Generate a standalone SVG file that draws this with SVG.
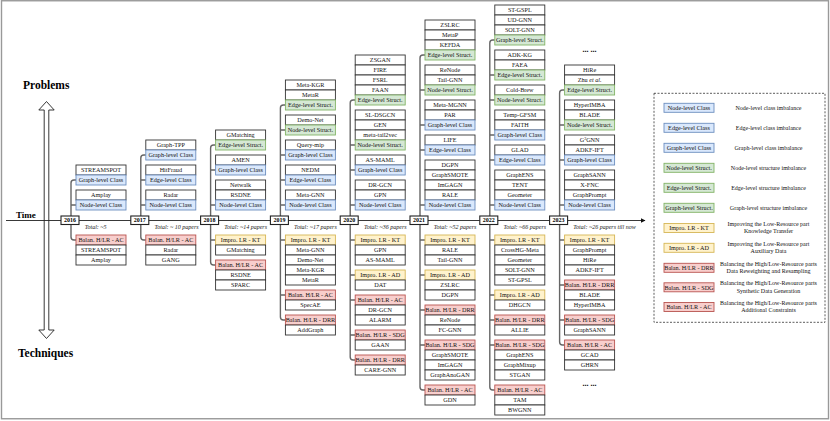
<svg xmlns="http://www.w3.org/2000/svg" width="830" height="421" viewBox="0 0 830 421">
<defs>
<style>
.w{fill:#fff;stroke:#333;stroke-width:0.9}
.b{fill:#dae8fc;stroke:#6c8ebf;stroke-width:0.9}
.g{fill:#d5e8d4;stroke:#82b366;stroke-width:0.9}
.y{fill:#fff2cc;stroke:#d6b656;stroke-width:0.9}
.r{fill:#f8cecc;stroke:#b85450;stroke-width:0.9}
.t{font-family:"Liberation Serif","Times New Roman",serif;font-size:6.2px;text-anchor:middle;fill:#111}
.lt{font-family:"Liberation Serif","Times New Roman",serif;font-size:6px;text-anchor:middle;fill:#111}
.tot{font-family:"Liberation Serif","Times New Roman",serif;font-size:6px;font-style:italic;fill:#222}
.yr{fill:#fff;stroke:#222;stroke-width:1.1}
.yt{font-family:"Liberation Serif","Times New Roman",serif;font-size:6px;font-weight:bold;text-anchor:middle;fill:#000}
.big{font-family:"Liberation Serif","Times New Roman",serif;font-weight:bold;fill:#000}
.dots{font-family:"Liberation Serif","Times New Roman",serif;font-size:8px;font-weight:bold;text-anchor:middle;fill:#000}
.con{fill:none;stroke:#666;stroke-width:1.4}
</style>
<marker id="ah" viewBox="0 0 10 10" refX="9" refY="5" markerWidth="5" markerHeight="5" orient="auto" markerUnits="userSpaceOnUse">
<path d="M0,0 L10,5 L0,10 Z" fill="#111"/>
</marker>
</defs>
<rect x="1.5" y="0.75" width="827" height="418" fill="#fff" stroke="#999" stroke-width="1.4"/>

<g id="labels">
<text class="big" x="23" y="89" font-size="11.5">Problems</text>
<text class="big" x="18" y="357" font-size="11.5">Techniques</text>
<text class="big" x="16" y="218" font-size="9">Time</text>
<polygon points="46.5,101.5 54.2,110 48.8,110 48.8,330 54.2,330 46.5,338.5 38.8,330 44.2,330 44.2,110 38.8,110" fill="#fff" stroke="#222" stroke-width="0.9"/>
</g>

<g id="axis">
<line x1="6" y1="220.5" x2="645" y2="220.5" stroke="#222" stroke-width="0.9" marker-end="url(#ah)"/>
</g>

<g id="connectors" class="con">
<path d="M76 180 H74 Q71 180 71 183 V237 Q71 240 74 240 H76 M71 205 H76"/>
<path d="M145.8 155 H143.8 Q140.8 155 140.8 158 V237 Q140.8 240 143.8 240 H145.8 M140.8 180 H145.8 M140.8 205 H145.8"/>
<path d="M215.6 145 H213.6 Q210.6 145 210.6 148 V262 Q210.6 265 213.6 265 H215.6 M210.6 170 H215.6 M210.6 205 H215.6 M210.6 240 H215.6"/>
<path d="M285.4 105 H283.4 Q280.4 105 280.4 108 V317 Q280.4 320 283.4 320 H285.4 M280.4 130 H285.4 M280.4 155 H285.4 M280.4 180 H285.4 M280.4 205 H285.4 M280.4 240 H285.4 M280.4 295 H285.4"/>
<path d="M355.2 100 H353.2 Q350.2 100 350.2 103 V357 Q350.2 360 353.2 360 H355.2 M350.2 145 H355.2 M350.2 170 H355.2 M350.2 205 H355.2 M350.2 240 H355.2 M350.2 275 H355.2 M350.2 300 H355.2 M350.2 335 H355.2"/>
<path d="M425 55 H423 Q420 55 420 58 V387 Q420 390 423 390 H425 M420 90 H425 M420 125 H425 M420 150 H425 M420 205 H425 M420 240 H425 M420 275 H425 M420 310 H425 M420 345 H425"/>
<path d="M494.8 40 H492.8 Q489.8 40 489.8 43 V387 Q489.8 390 492.8 390 H494.8 M489.8 75 H494.8 M489.8 100 H494.8 M489.8 135 H494.8 M489.8 160 H494.8 M489.8 205 H494.8 M489.8 240 H494.8 M489.8 295 H494.8 M489.8 320 H494.8 M489.8 345 H494.8"/>
<path d="M564.6 90 H562.6 Q559.6 90 559.6 93 V342 Q559.6 345 562.6 345 H564.6 M559.6 125 H564.6 M559.6 160 H564.6 M559.6 205 H564.6 M559.6 240 H564.6 M559.6 285 H564.6 M559.6 320 H564.6"/>
</g>

<g id="years">
<g id="y2016"><rect class="yr" x="61" y="216" width="18" height="8.5"/><text class="yt" x="70" y="222.4">2016</text><text class="tot" x="84.7" y="229">Total: ~5</text></g>
<g id="y2017"><rect class="yr" x="130.8" y="216" width="18" height="8.5"/><text class="yt" x="139.8" y="222.4">2017</text><text class="tot" x="154.5" y="229">Total: ~ 10 papers</text></g>
<g id="y2018"><rect class="yr" x="200.6" y="216" width="18" height="8.5"/><text class="yt" x="209.6" y="222.4">2018</text><text class="tot" x="224.3" y="229">Total: ~14 papers</text></g>
<g id="y2019"><rect class="yr" x="270.4" y="216" width="18" height="8.5"/><text class="yt" x="279.4" y="222.4">2019</text><text class="tot" x="294.1" y="229">Total: ~17 papers</text></g>
<g id="y2020"><rect class="yr" x="340.2" y="216" width="18" height="8.5"/><text class="yt" x="349.2" y="222.4">2020</text><text class="tot" x="363.9" y="229">Total: ~36 papers</text></g>
<g id="y2021"><rect class="yr" x="410" y="216" width="18" height="8.5"/><text class="yt" x="419" y="222.4">2021</text><text class="tot" x="433.7" y="229">Total: ~52 papers</text></g>
<g id="y2022"><rect class="yr" x="479.8" y="216" width="18" height="8.5"/><text class="yt" x="488.8" y="222.4">2022</text><text class="tot" x="503.5" y="229">Total: ~66 papers</text></g>
<g id="y2023"><rect class="yr" x="549.6" y="216" width="18" height="8.5"/><text class="yt" x="558.6" y="222.4">2023</text><text class="tot" x="573.3" y="229">Total: ~26 papers till now</text></g>
</g>

<g id="col2016" transform="translate(76 0)">
<g id="n2016u1"><rect class="w" x="0" y="165" width="50" height="10"/><text class="t" x="25" y="172.2">STREAMSPOT</text><rect class="b" x="0" y="175" width="50" height="10"/><text class="t" x="25" y="182.2">Graph-level Class</text></g>
<g id="n2016u2"><rect class="w" x="0" y="190" width="50" height="10"/><text class="t" x="25" y="197.2">Amplay</text><rect class="b" x="0" y="200" width="50" height="10"/><text class="t" x="25" y="207.2">Node-level Class</text></g>
<g id="n2016l1"><rect class="r" x="0" y="235" width="50" height="10"/><text class="t" x="25" y="242.2">Balan. H/LR - AC</text><rect class="w" x="0" y="245" width="50" height="10"/><text class="t" x="25" y="252.2">STREAMSPOT</text><rect class="w" x="0" y="255" width="50" height="10"/><text class="t" x="25" y="262.2">Amplay</text></g>
</g>

<g id="col2017" transform="translate(145.8 0)">
<g id="n2017u1"><rect class="w" x="0" y="140" width="50" height="10"/><text class="t" x="25" y="147.2">Graph-TPP</text><rect class="b" x="0" y="150" width="50" height="10"/><text class="t" x="25" y="157.2">Graph-level Class</text></g>
<g id="n2017u2"><rect class="w" x="0" y="165" width="50" height="10"/><text class="t" x="25" y="172.2">HitFraud</text><rect class="b" x="0" y="175" width="50" height="10"/><text class="t" x="25" y="182.2">Edge-level Class</text></g>
<g id="n2017u3"><rect class="w" x="0" y="190" width="50" height="10"/><text class="t" x="25" y="197.2">Radar</text><rect class="b" x="0" y="200" width="50" height="10"/><text class="t" x="25" y="207.2">Node-level Class</text></g>
<g id="n2017l1"><rect class="r" x="0" y="235" width="50" height="10"/><text class="t" x="25" y="242.2">Balan. H/LR - AC</text><rect class="w" x="0" y="245" width="50" height="10"/><text class="t" x="25" y="252.2">Radar</text><rect class="w" x="0" y="255" width="50" height="10"/><text class="t" x="25" y="262.2">GANG</text></g>
</g>

<g id="col2018" transform="translate(215.6 0)">
<g id="n2018u1"><rect class="w" x="0" y="130" width="50" height="10"/><text class="t" x="25" y="137.2">GMatching</text><rect class="g" x="0" y="140" width="50" height="10"/><text class="t" x="25" y="147.2">Edge-level Struct.</text></g>
<g id="n2018u2"><rect class="w" x="0" y="155" width="50" height="10"/><text class="t" x="25" y="162.2">AMEN</text><rect class="b" x="0" y="165" width="50" height="10"/><text class="t" x="25" y="172.2">Graph-level Class</text></g>
<g id="n2018u3"><rect class="w" x="0" y="180" width="50" height="10"/><text class="t" x="25" y="187.2">Netwalk</text><rect class="w" x="0" y="190" width="50" height="10"/><text class="t" x="25" y="197.2">RSDNE</text><rect class="b" x="0" y="200" width="50" height="10"/><text class="t" x="25" y="207.2">Node-level Class</text></g>
<g id="n2018l1"><rect class="y" x="0" y="235" width="50" height="10"/><text class="t" x="25" y="242.2">Impro. LR - KT</text><rect class="w" x="0" y="245" width="50" height="10"/><text class="t" x="25" y="252.2">GMatching</text></g>
<g id="n2018l2"><rect class="r" x="0" y="260" width="50" height="10"/><text class="t" x="25" y="267.2">Balan. H/LR - AC</text><rect class="w" x="0" y="270" width="50" height="10"/><text class="t" x="25" y="277.2">RSDNE</text><rect class="w" x="0" y="280" width="50" height="10"/><text class="t" x="25" y="287.2">SPARC</text></g>
</g>

<g id="col2019" transform="translate(285.4 0)">
<g id="n2019u1"><rect class="w" x="0" y="80" width="50" height="10"/><text class="t" x="25" y="87.2">Meta-KGR</text><rect class="w" x="0" y="90" width="50" height="10"/><text class="t" x="25" y="97.2">MetaR</text><rect class="g" x="0" y="100" width="50" height="10"/><text class="t" x="25" y="107.2">Edge-level Struct.</text></g>
<g id="n2019u2"><rect class="w" x="0" y="115" width="50" height="10"/><text class="t" x="25" y="122.2">Demo-Net</text><rect class="g" x="0" y="125" width="50" height="10"/><text class="t" x="25" y="132.2">Node-level Struct.</text></g>
<g id="n2019u3"><rect class="w" x="0" y="140" width="50" height="10"/><text class="t" x="25" y="147.2">Query-mip</text><rect class="b" x="0" y="150" width="50" height="10"/><text class="t" x="25" y="157.2">Graph-level Class</text></g>
<g id="n2019u4"><rect class="w" x="0" y="165" width="50" height="10"/><text class="t" x="25" y="172.2">NEDM</text><rect class="b" x="0" y="175" width="50" height="10"/><text class="t" x="25" y="182.2">Edge-level Class</text></g>
<g id="n2019u5"><rect class="w" x="0" y="190" width="50" height="10"/><text class="t" x="25" y="197.2">Meta-GNN</text><rect class="b" x="0" y="200" width="50" height="10"/><text class="t" x="25" y="207.2">Node-level Class</text></g>
<g id="n2019l1"><rect class="y" x="0" y="235" width="50" height="10"/><text class="t" x="25" y="242.2">Impro. LR - KT</text><rect class="w" x="0" y="245" width="50" height="10"/><text class="t" x="25" y="252.2">Meta-GNN</text><rect class="w" x="0" y="255" width="50" height="10"/><text class="t" x="25" y="262.2">Demo-Net</text><rect class="w" x="0" y="265" width="50" height="10"/><text class="t" x="25" y="272.2">Meta-KGR</text><rect class="w" x="0" y="275" width="50" height="10"/><text class="t" x="25" y="282.2">MetaR</text></g>
<g id="n2019l2"><rect class="r" x="0" y="290" width="50" height="10"/><text class="t" x="25" y="297.2">Balan. H/LR - AC</text><rect class="w" x="0" y="300" width="50" height="10"/><text class="t" x="25" y="307.2">SpecAE</text></g>
<g id="n2019l3"><rect class="r" x="0" y="315" width="50" height="10"/><text class="t" x="25" y="322.2">Balan. H/LR - DRR</text><rect class="w" x="0" y="325" width="50" height="10"/><text class="t" x="25" y="332.2">AddGraph</text></g>
</g>

<g id="col2020" transform="translate(355.2 0)">
<g id="n2020u1"><rect class="w" x="0" y="55" width="50" height="10"/><text class="t" x="25" y="62.2">ZSGAN</text><rect class="w" x="0" y="65" width="50" height="10"/><text class="t" x="25" y="72.2">FIRE</text><rect class="w" x="0" y="75" width="50" height="10"/><text class="t" x="25" y="82.2">FSRL</text><rect class="w" x="0" y="85" width="50" height="10"/><text class="t" x="25" y="92.2">FAAN</text><rect class="g" x="0" y="95" width="50" height="10"/><text class="t" x="25" y="102.2">Edge-level Struct.</text></g>
<g id="n2020u2"><rect class="w" x="0" y="110" width="50" height="10"/><text class="t" x="25" y="117.2">SL-DSGCN</text><rect class="w" x="0" y="120" width="50" height="10"/><text class="t" x="25" y="127.2">GEN</text><rect class="w" x="0" y="130" width="50" height="10"/><text class="t" x="25" y="137.2">meta-tail2vec</text><rect class="g" x="0" y="140" width="50" height="10"/><text class="t" x="25" y="147.2">Node-level Struct.</text></g>
<g id="n2020u3"><rect class="w" x="0" y="155" width="50" height="10"/><text class="t" x="25" y="162.2">AS-MAML</text><rect class="b" x="0" y="165" width="50" height="10"/><text class="t" x="25" y="172.2">Graph-level Class</text></g>
<g id="n2020u4"><rect class="w" x="0" y="180" width="50" height="10"/><text class="t" x="25" y="187.2">DR-GCN</text><rect class="w" x="0" y="190" width="50" height="10"/><text class="t" x="25" y="197.2">GPN</text><rect class="b" x="0" y="200" width="50" height="10"/><text class="t" x="25" y="207.2">Node-level Class</text></g>
<g id="n2020l1"><rect class="y" x="0" y="235" width="50" height="10"/><text class="t" x="25" y="242.2">Impro. LR - KT</text><rect class="w" x="0" y="245" width="50" height="10"/><text class="t" x="25" y="252.2">GPN</text><rect class="w" x="0" y="255" width="50" height="10"/><text class="t" x="25" y="262.2">AS-MAML</text></g>
<g id="n2020l2"><rect class="y" x="0" y="270" width="50" height="10"/><text class="t" x="25" y="277.2">Impro. LR - AD</text><rect class="w" x="0" y="280" width="50" height="10"/><text class="t" x="25" y="287.2">DAT</text></g>
<g id="n2020l3"><rect class="r" x="0" y="295" width="50" height="10"/><text class="t" x="25" y="302.2">Balan. H/LR - AC</text><rect class="w" x="0" y="305" width="50" height="10"/><text class="t" x="25" y="312.2">DR-GCN</text><rect class="w" x="0" y="315" width="50" height="10"/><text class="t" x="25" y="322.2">ALARM</text></g>
<g id="n2020l4"><rect class="r" x="0" y="330" width="50" height="10"/><text class="t" x="25" y="337.2">Balan. H/LR - SDG</text><rect class="w" x="0" y="340" width="50" height="10"/><text class="t" x="25" y="347.2">GAAN</text></g>
<g id="n2020l5"><rect class="r" x="0" y="355" width="50" height="10"/><text class="t" x="25" y="362.2">Balan. H/LR - DRR</text><rect class="w" x="0" y="365" width="50" height="10"/><text class="t" x="25" y="372.2">CARE-GNN</text></g>
</g>

<g id="col2021" transform="translate(425 0)">
<g id="n2021u1"><rect class="w" x="0" y="20" width="50" height="10"/><text class="t" x="25" y="27.2">ZSLRC</text><rect class="w" x="0" y="30" width="50" height="10"/><text class="t" x="25" y="37.2">MetaP</text><rect class="w" x="0" y="40" width="50" height="10"/><text class="t" x="25" y="47.2">KEFDA</text><rect class="g" x="0" y="50" width="50" height="10"/><text class="t" x="25" y="57.2">Edge-level Struct.</text></g>
<g id="n2021u2"><rect class="w" x="0" y="65" width="50" height="10"/><text class="t" x="25" y="72.2">ReNode</text><rect class="w" x="0" y="75" width="50" height="10"/><text class="t" x="25" y="82.2">Tail-GNN</text><rect class="g" x="0" y="85" width="50" height="10"/><text class="t" x="25" y="92.2">Node-level Struct.</text></g>
<g id="n2021u3"><rect class="w" x="0" y="100" width="50" height="10"/><text class="t" x="25" y="107.2">Meta-MGNN</text><rect class="w" x="0" y="110" width="50" height="10"/><text class="t" x="25" y="117.2">PAR</text><rect class="b" x="0" y="120" width="50" height="10"/><text class="t" x="25" y="127.2">Graph-level Class</text></g>
<g id="n2021u4"><rect class="w" x="0" y="135" width="50" height="10"/><text class="t" x="25" y="142.2">LIFE</text><rect class="b" x="0" y="145" width="50" height="10"/><text class="t" x="25" y="152.2">Edge-level Class</text></g>
<g id="n2021u5"><rect class="w" x="0" y="160" width="50" height="10"/><text class="t" x="25" y="167.2">DGPN</text><rect class="w" x="0" y="170" width="50" height="10"/><text class="t" x="25" y="177.2">GraphSMOTE</text><rect class="w" x="0" y="180" width="50" height="10"/><text class="t" x="25" y="187.2">ImGAGN</text><rect class="w" x="0" y="190" width="50" height="10"/><text class="t" x="25" y="197.2">RALE</text><rect class="b" x="0" y="200" width="50" height="10"/><text class="t" x="25" y="207.2">Node-level Class</text></g>
<g id="n2021l1"><rect class="y" x="0" y="235" width="50" height="10"/><text class="t" x="25" y="242.2">Impro. LR - KT</text><rect class="w" x="0" y="245" width="50" height="10"/><text class="t" x="25" y="252.2">RALE</text><rect class="w" x="0" y="255" width="50" height="10"/><text class="t" x="25" y="262.2">Tail-GNN</text></g>
<g id="n2021l2"><rect class="y" x="0" y="270" width="50" height="10"/><text class="t" x="25" y="277.2">Impro. LR - AD</text><rect class="w" x="0" y="280" width="50" height="10"/><text class="t" x="25" y="287.2">ZSLRC</text><rect class="w" x="0" y="290" width="50" height="10"/><text class="t" x="25" y="297.2">DGPN</text></g>
<g id="n2021l3"><rect class="r" x="0" y="305" width="50" height="10"/><text class="t" x="25" y="312.2">Balan. H/LR - DRR</text><rect class="w" x="0" y="315" width="50" height="10"/><text class="t" x="25" y="322.2">ReNode</text><rect class="w" x="0" y="325" width="50" height="10"/><text class="t" x="25" y="332.2">FC-GNN</text></g>
<g id="n2021l4"><rect class="r" x="0" y="340" width="50" height="10"/><text class="t" x="25" y="347.2">Balan. H/LR - SDG</text><rect class="w" x="0" y="350" width="50" height="10"/><text class="t" x="25" y="357.2">GraphSMOTE</text><rect class="w" x="0" y="360" width="50" height="10"/><text class="t" x="25" y="367.2">ImGAGN</text><rect class="w" x="0" y="370" width="50" height="10"/><text class="t" x="25" y="377.2">GraphAnoGAN</text></g>
<g id="n2021l5"><rect class="r" x="0" y="385" width="50" height="10"/><text class="t" x="25" y="392.2">Balan. H/LR - AC</text><rect class="w" x="0" y="395" width="50" height="10"/><text class="t" x="25" y="402.2">GDN</text></g>
</g>

<g id="col2022" transform="translate(494.8 0)">
<g id="n2022u1"><rect class="w" x="0" y="5" width="50" height="10"/><text class="t" x="25" y="12.2">ST-GSPL</text><rect class="w" x="0" y="15" width="50" height="10"/><text class="t" x="25" y="22.2">UD-GNN</text><rect class="w" x="0" y="25" width="50" height="10"/><text class="t" x="25" y="32.2">SOLT-GNN</text><rect class="g" x="0" y="35" width="50" height="10"/><text class="t" x="25" y="42.2">Graph-level Struct.</text></g>
<g id="n2022u2"><rect class="w" x="0" y="50" width="50" height="10"/><text class="t" x="25" y="57.2">ADK-KG</text><rect class="w" x="0" y="60" width="50" height="10"/><text class="t" x="25" y="67.2">FAEA</text><rect class="g" x="0" y="70" width="50" height="10"/><text class="t" x="25" y="77.2">Edge-level Struct.</text></g>
<g id="n2022u3"><rect class="w" x="0" y="85" width="50" height="10"/><text class="t" x="25" y="92.2">Cold-Brew</text><rect class="g" x="0" y="95" width="50" height="10"/><text class="t" x="25" y="102.2">Node-level Struct.</text></g>
<g id="n2022u4"><rect class="w" x="0" y="110" width="50" height="10"/><text class="t" x="25" y="117.2">Temp-GFSM</text><rect class="w" x="0" y="120" width="50" height="10"/><text class="t" x="25" y="127.2">FAITH</text><rect class="b" x="0" y="130" width="50" height="10"/><text class="t" x="25" y="137.2">Graph-level Class</text></g>
<g id="n2022u5"><rect class="w" x="0" y="145" width="50" height="10"/><text class="t" x="25" y="152.2">GLAD</text><rect class="b" x="0" y="155" width="50" height="10"/><text class="t" x="25" y="162.2">Edge-level Class</text></g>
<g id="n2022u6"><rect class="w" x="0" y="170" width="50" height="10"/><text class="t" x="25" y="177.2">GraphENS</text><rect class="w" x="0" y="180" width="50" height="10"/><text class="t" x="25" y="187.2">TENT</text><rect class="w" x="0" y="190" width="50" height="10"/><text class="t" x="25" y="197.2">Geometer</text><rect class="b" x="0" y="200" width="50" height="10"/><text class="t" x="25" y="207.2">Node-level Class</text></g>
<g id="n2022l1"><rect class="y" x="0" y="235" width="50" height="10"/><text class="t" x="25" y="242.2">Impro. LR - KT</text><rect class="w" x="0" y="245" width="50" height="10"/><text class="t" x="25" y="252.2">CrossHG-Meta</text><rect class="w" x="0" y="255" width="50" height="10"/><text class="t" x="25" y="262.2">Geometer</text><rect class="w" x="0" y="265" width="50" height="10"/><text class="t" x="25" y="272.2">SOLT-GNN</text><rect class="w" x="0" y="275" width="50" height="10"/><text class="t" x="25" y="282.2">ST-GPSL</text></g>
<g id="n2022l2"><rect class="y" x="0" y="290" width="50" height="10"/><text class="t" x="25" y="297.2">Impro. LR - AD</text><rect class="w" x="0" y="300" width="50" height="10"/><text class="t" x="25" y="307.2">DHGCN</text></g>
<g id="n2022l3"><rect class="r" x="0" y="315" width="50" height="10"/><text class="t" x="25" y="322.2">Balan. H/LR - DRR</text><rect class="w" x="0" y="325" width="50" height="10"/><text class="t" x="25" y="332.2">ALLIE</text></g>
<g id="n2022l4"><rect class="r" x="0" y="340" width="50" height="10"/><text class="t" x="25" y="347.2">Balan. H/LR - SDG</text><rect class="w" x="0" y="350" width="50" height="10"/><text class="t" x="25" y="357.2">GraphENS</text><rect class="w" x="0" y="360" width="50" height="10"/><text class="t" x="25" y="367.2">GraphMixup</text><rect class="w" x="0" y="370" width="50" height="10"/><text class="t" x="25" y="377.2">STGAN</text></g>
<g id="n2022l5"><rect class="r" x="0" y="385" width="50" height="10"/><text class="t" x="25" y="392.2">Balan. H/LR - AC</text><rect class="w" x="0" y="395" width="50" height="10"/><text class="t" x="25" y="402.2">TAM</text><rect class="w" x="0" y="405" width="50" height="10"/><text class="t" x="25" y="412.2">BWGNN</text></g>
</g>

<g id="col2023" transform="translate(564.6 0)">
<text class="dots" x="25" y="51.5">... ...</text>
<g id="n2023u1"><rect class="w" x="0" y="65" width="50" height="10"/><text class="t" x="25" y="72.2">HiRe</text><rect class="w" x="0" y="75" width="50" height="10"/><text class="t" x="25" y="82.2">Zhu <tspan font-style="italic">et al.</tspan></text><rect class="g" x="0" y="85" width="50" height="10"/><text class="t" x="25" y="92.2">Edge-level Struct.</text></g>
<g id="n2023u2"><rect class="w" x="0" y="100" width="50" height="10"/><text class="t" x="25" y="107.2">HyperIMBA</text><rect class="w" x="0" y="110" width="50" height="10"/><text class="t" x="25" y="117.2">BLADE</text><rect class="g" x="0" y="120" width="50" height="10"/><text class="t" x="25" y="127.2">Node-level Struct.</text></g>
<g id="n2023u3"><rect class="w" x="0" y="135" width="50" height="10"/><text class="t" x="25" y="142.2">G<tspan font-size="4" dy="-2">2</tspan><tspan dy="2">GNN</tspan></text><rect class="w" x="0" y="145" width="50" height="10"/><text class="t" x="25" y="152.2">ADKF-IFT</text><rect class="b" x="0" y="155" width="50" height="10"/><text class="t" x="25" y="162.2">Graph-level Class</text></g>
<g id="n2023u4"><rect class="w" x="0" y="170" width="50" height="10"/><text class="t" x="25" y="177.2">GraphSANN</text><rect class="w" x="0" y="180" width="50" height="10"/><text class="t" x="25" y="187.2">X-FNC</text><rect class="w" x="0" y="190" width="50" height="10"/><text class="t" x="25" y="197.2">GraphPrompt</text><rect class="b" x="0" y="200" width="50" height="10"/><text class="t" x="25" y="207.2">Node-level Class</text></g>
<g id="n2023l1"><rect class="y" x="0" y="235" width="50" height="10"/><text class="t" x="25" y="242.2">Impro. LR - KT</text><rect class="w" x="0" y="245" width="50" height="10"/><text class="t" x="25" y="252.2">GraphPrompt</text><rect class="w" x="0" y="255" width="50" height="10"/><text class="t" x="25" y="262.2">HiRe</text><rect class="w" x="0" y="265" width="50" height="10"/><text class="t" x="25" y="272.2">ADKF-IFT</text></g>
<g id="n2023l2"><rect class="r" x="0" y="280" width="50" height="10"/><text class="t" x="25" y="287.2">Balan. H/LR - DRR</text><rect class="w" x="0" y="290" width="50" height="10"/><text class="t" x="25" y="297.2">BLADE</text><rect class="w" x="0" y="300" width="50" height="10"/><text class="t" x="25" y="307.2">HyperIMBA</text></g>
<g id="n2023l3"><rect class="r" x="0" y="315" width="50" height="10"/><text class="t" x="25" y="322.2">Balan. H/LR - SDG</text><rect class="w" x="0" y="325" width="50" height="10"/><text class="t" x="25" y="332.2">GraphSANN</text></g>
<g id="n2023l4"><rect class="r" x="0" y="340" width="50" height="10"/><text class="t" x="25" y="347.2">Balan. H/LR - AC</text><rect class="w" x="0" y="350" width="50" height="10"/><text class="t" x="25" y="357.2">GCAD</text><rect class="w" x="0" y="360" width="50" height="10"/><text class="t" x="25" y="367.2">GHRN</text></g>
<text class="dots" x="25" y="385.5">... ...</text>
</g>

<g id="legend">
<rect x="654" y="93.3" width="171" height="229" fill="none" stroke="#333" stroke-width="0.8" stroke-dasharray="2,1.5"/>
<rect class="b" x="664" y="103.3" width="50" height="9"/><text class="t" x="689" y="110">Node-level Class</text><text class="lt" x="768.5" y="110">Node-level class imbalance</text>
<rect class="b" x="664" y="123.3" width="50" height="9"/><text class="t" x="689" y="130">Edge-level Class</text><text class="lt" x="768.5" y="130">Edge-level class imbalance</text>
<rect class="b" x="664" y="143.3" width="50" height="9"/><text class="t" x="689" y="150">Graph-level Class</text><text class="lt" x="768.5" y="150">Graph-level class imbalance</text>
<rect class="g" x="664" y="163.3" width="50" height="9"/><text class="t" x="689" y="170">Node-level Struct.</text><text class="lt" x="768.5" y="170">Node-level structure imbalance</text>
<rect class="g" x="664" y="183.3" width="50" height="9"/><text class="t" x="689" y="190">Edge-level Struct.</text><text class="lt" x="768.5" y="190">Edge-level structure imbalance</text>
<rect class="g" x="664" y="203.3" width="50" height="9"/><text class="t" x="689" y="210">Graph-level Struct.</text><text class="lt" x="768.5" y="210">Graph-level structure imbalance</text>
<rect class="y" x="664" y="223.5" width="50" height="9"/><text class="t" x="689" y="230.2">Impro. LR - KT</text><text class="lt" x="768.5" y="226">Improving the Low-Resource part</text><text class="lt" x="768.5" y="233.2">Knowledge Transfer</text>
<rect class="y" x="664" y="243.3" width="50" height="9"/><text class="t" x="689" y="250">Impro. LR - AD</text><text class="lt" x="768.5" y="245.8">Improving the Low-Resource part</text><text class="lt" x="768.5" y="253">Auxiliary Data</text>
<rect class="r" x="664" y="263.3" width="50" height="9"/><text class="t" x="689" y="270">Balan. H/LR - DRR</text><text class="lt" x="768.5" y="265.8">Balancing the High/Low-Resource parts</text><text class="lt" x="768.5" y="273">Data Reweighting and Resampling</text>
<rect class="r" x="664" y="282.8" width="50" height="9"/><text class="t" x="689" y="289.5">Balan. H/LR - SDG</text><text class="lt" x="768.5" y="285.3">Balancing the High/Low-Resource parts</text><text class="lt" x="768.5" y="292.5">Synthetic Data Generation</text>
<rect class="r" x="664" y="302.5" width="50" height="9"/><text class="t" x="689" y="309.2">Balan. H/LR - AC</text><text class="lt" x="768.5" y="305">Balancing the High/Low-Resource parts</text><text class="lt" x="768.5" y="312.2">Additional Constraints</text>
</g>
</svg>
